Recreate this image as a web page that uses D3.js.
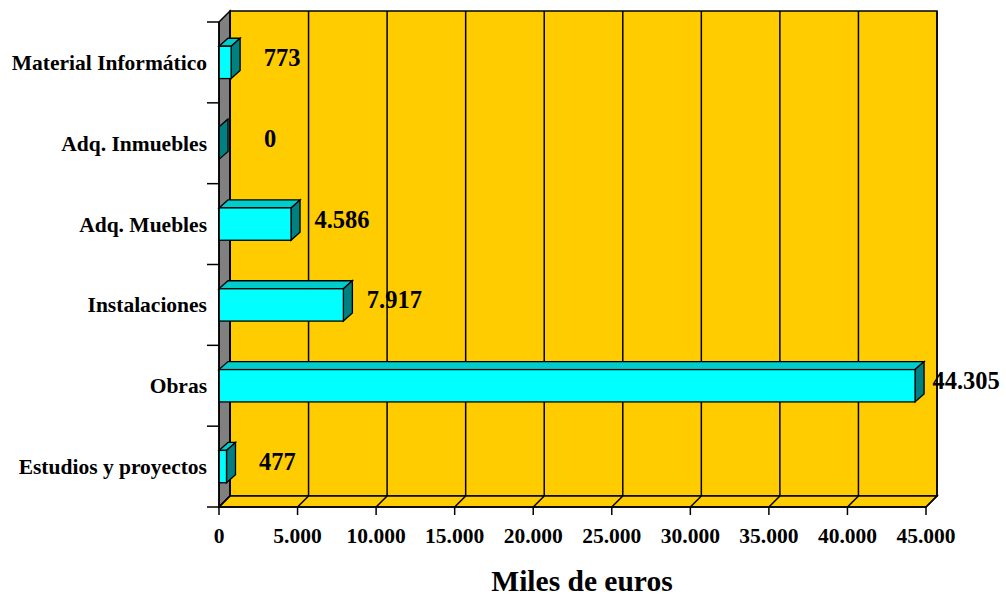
<!DOCTYPE html>
<html><head><meta charset="utf-8">
<script src="https://cdn.jsdelivr.net/npm/d3@7"></script>
<style>body{margin:0;background:#fff}svg{display:block}text{font-family:"Liberation Serif","Times New Roman",serif;font-weight:bold}</style>
</head><body><svg id="c" width="1006" height="596"></svg>
<script>
const categories = ["Material Informático","Adq. Inmuebles","Adq. Muebles","Instalaciones","Obras","Estudios y proyectos"];
const values = [773, 0, 4586, 7917, 44305, 477];
const valueLabels = ["773","0","4.586","7.917","44.305","477"];
const tickValues = [0,5000,10000,15000,20000,25000,30000,35000,40000,45000];
const tickLabels = ["0","5.000","10.000","15.000","20.000","25.000","30.000","35.000","40.000","45.000"];
const axisTitle = "Miles de euros";

(function(){
const svg = d3.select("#c");
const x = d3.scaleLinear().domain([0,45000]).range([219,926]);
const y = d3.scaleBand().domain(categories).range([22,507]).paddingInner(0.6).paddingOuter(0.3);
const yb = d3.scaleBand().domain(categories).range([22,507]);
const dX = 11, dY = -11;   // wall depth
const bX = 9, bY = -8;     // bar depth
const yTop = 22, yBot = 507;
const x0 = x(0), x1 = x(45000);
const line = d3.line();

svg.append("path").attr("d", line([[x0+dX,yTop+dY],[x1+dX,yTop+dY],[x1+dX,yBot+dY],[x0+dX,yBot+dY]])+"Z")
  .attr("fill","#FFCC00").attr("stroke","#000").attr("stroke-width",1.5);
svg.append("path").attr("d", line([[x0,yTop],[x0+dX,yTop+dY],[x0+dX,yBot+dY],[x0,yBot]])+"Z")
  .attr("fill","#808080").attr("stroke","#000").attr("stroke-width",1.5);
svg.append("path").attr("d", line([[x0,yBot],[x1,yBot],[x1+dX,yBot+dY],[x0+dX,yBot+dY]])+"Z")
  .attr("fill","#FFCC00").attr("stroke","#000").attr("stroke-width",1.5);
tickValues.forEach(v=>{
  svg.append("line").attr("x1",x(v)+dX).attr("x2",x(v)+dX).attr("y1",yTop+dY).attr("y2",yBot+dY).attr("stroke","#000").attr("stroke-width",1.5);
  svg.append("line").attr("x1",x(v)).attr("x2",x(v)+dX).attr("y1",yBot).attr("y2",yBot+dY).attr("stroke","#000").attr("stroke-width",1.5);
});

categories.forEach((c,i)=>{
  const v = values[i], xs = x(0), xe = x(v), yt = y(c), yb2 = y(c)+y.bandwidth();
  const g = svg.append("g");
  g.append("path").attr("d", line([[xs,yt],[xs+bX,yt+bY],[xe+bX,yt+bY],[xe,yt]])+"Z").attr("fill","#00CCCC").attr("stroke","#000").attr("stroke-width",1.3);
  g.append("path").attr("d", line([[xe,yt],[xe+bX,yt+bY],[xe+bX,yb2+bY],[xe,yb2]])+"Z").attr("fill","#008080").attr("stroke","#000").attr("stroke-width",1.3);
  if (v>0) g.append("rect").attr("x",xs).attr("y",yt).attr("width",xe-xs).attr("height",yb2-yt).attr("fill","#00FFFF").attr("stroke","#000").attr("stroke-width",1.3);
  svg.append("text").attr("x",xe+51).attr("y",yb(c)+yb.bandwidth()/2-5).attr("dy","0.35em")
    .attr("text-anchor","middle").attr("font-size",24.5).text(valueLabels[i]);
});

svg.append("line").attr("x1",x0).attr("x2",x0).attr("y1",yTop).attr("y2",yBot).attr("stroke","#000").attr("stroke-width",1.5);
const edges = categories.map(c=>yb(c)).concat([yBot]);
edges.forEach(e=>svg.append("line").attr("x1",x0-12).attr("x2",x0).attr("y1",e).attr("y2",e).attr("stroke","#000").attr("stroke-width",1.5));
categories.forEach(c=>svg.append("text").attr("x",207).attr("y",yb(c)+yb.bandwidth()/2).attr("dy","0.35em")
  .attr("text-anchor","end").attr("font-size",21.5).text(c));

svg.append("line").attr("x1",x0).attr("x2",x1).attr("y1",yBot).attr("y2",yBot).attr("stroke","#000").attr("stroke-width",1.5);
tickValues.forEach((v,i)=>{
  svg.append("line").attr("x1",x(v)).attr("x2",x(v)).attr("y1",yBot).attr("y2",yBot+8).attr("stroke","#000").attr("stroke-width",1.5);
  svg.append("text").attr("x",x(v)).attr("y",535).attr("dy","0.35em").attr("text-anchor","middle").attr("font-size",21.5).text(tickLabels[i]);
});
svg.append("text").attr("x",582).attr("y",591).attr("text-anchor","middle").attr("font-size",29.5).text(axisTitle);
})();
</script></body></html>
